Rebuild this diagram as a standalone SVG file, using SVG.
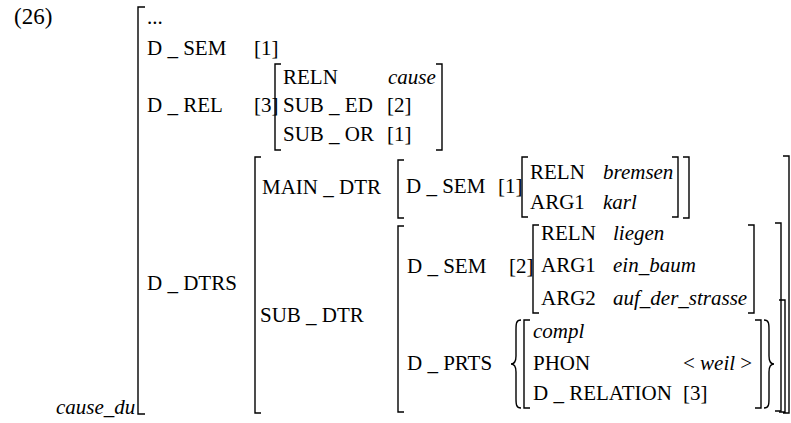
<svg xmlns="http://www.w3.org/2000/svg" width="791" height="423" viewBox="0 0 791 423">
<style>
text{font-family:"Liberation Serif","Times New Roman",serif;font-size:21px;fill:#000}
.i{font-style:italic}
.b{fill:none;stroke:#000;stroke-width:1.4}
</style>
<rect width="791" height="423" fill="#fff"/>
<text x="14" y="24" style="font-size:23px">(26)</text>
<g id="outer">
<path class="b" d="M145,7H138V414H145"/>
<text x="147" y="24">...</text>
<text x="147" y="55">D _ SEM</text><text x="254" y="55">[1]</text>
<text x="147" y="112">D _ REL</text><text x="254" y="112">[3]</text>
<text x="147" y="290">D _ DTRS</text>
<text class="i" x="56" y="414">cause_du</text>
</g>
<g id="drel">
<path class="b" d="M281,64H275V150H281M436,64H442V150H436"/>
<text x="283" y="84">RELN</text><text class="i" x="388" y="84">cause</text>
<text x="283" y="112">SUB _ ED</text><text x="387" y="112">[2]</text>
<text x="283" y="141">SUB _ OR</text><text x="387" y="141">[1]</text>
</g>
<g id="ddtrs">
<path class="b" d="M261,157H255V413H261M783,156H789V413H783M779,300H785V412H779"/>
<text x="262" y="194">MAIN _ DTR</text>
<text x="260" y="322">SUB _ DTR</text>
</g>
<g id="maindtr">
<path class="b" d="M404,160H398V218H404M683,157H689V218H683"/>
<text x="406" y="193">D _ SEM</text><text x="498" y="193">[1]</text>
<path class="b" d="M528,157H522V217H528M672,157H678V217H672"/>
<text x="530" y="179">RELN</text><text class="i" x="603" y="179">bremsen</text>
<text x="530" y="209">ARG1</text><text class="i" x="603" y="209">karl</text>
</g>
<g id="subdtr">
<path class="b" d="M404,226H398V412H404M775,223H781V411H775"/>
<text x="407" y="273">D _ SEM</text><text x="509" y="273">[2]</text>
<path class="b" d="M539,225H533V313H539M748,225H754V313H748"/>
<text x="541" y="240">RELN</text><text class="i" x="613" y="240">liegen</text>
<text x="541" y="272">ARG1</text><text class="i" x="613" y="272">ein_baum</text>
<text x="541" y="305">ARG2</text><text class="i" x="613" y="305">auf_der_strasse</text>
<text x="407" y="370">D _ PRTS</text>
<path class="b" d="M521,320C516,320 516,324 516,330L516,356C516,362 514,364 511,364C514,364 516,366 516,372L516,398C516,404 516,408 521,408"/>
<path class="b" d="M530,320H524V408H530M755,320H761V408H755"/>
<path class="b" d="M764,320C769,320 769,324 769,330L769,356C769,362 771,364 774,364C771,364 769,366 769,372L769,398C769,404 769,408 764,408"/>
<text class="i" x="533" y="338">compl</text>
<text x="533" y="370">PHON</text>
<text x="683" y="370">&lt; <tspan class="i">weil</tspan> &gt;</text>
<text x="533" y="400">D _ RELATION</text><text x="683" y="400">[3]</text>
</g>
</svg>
